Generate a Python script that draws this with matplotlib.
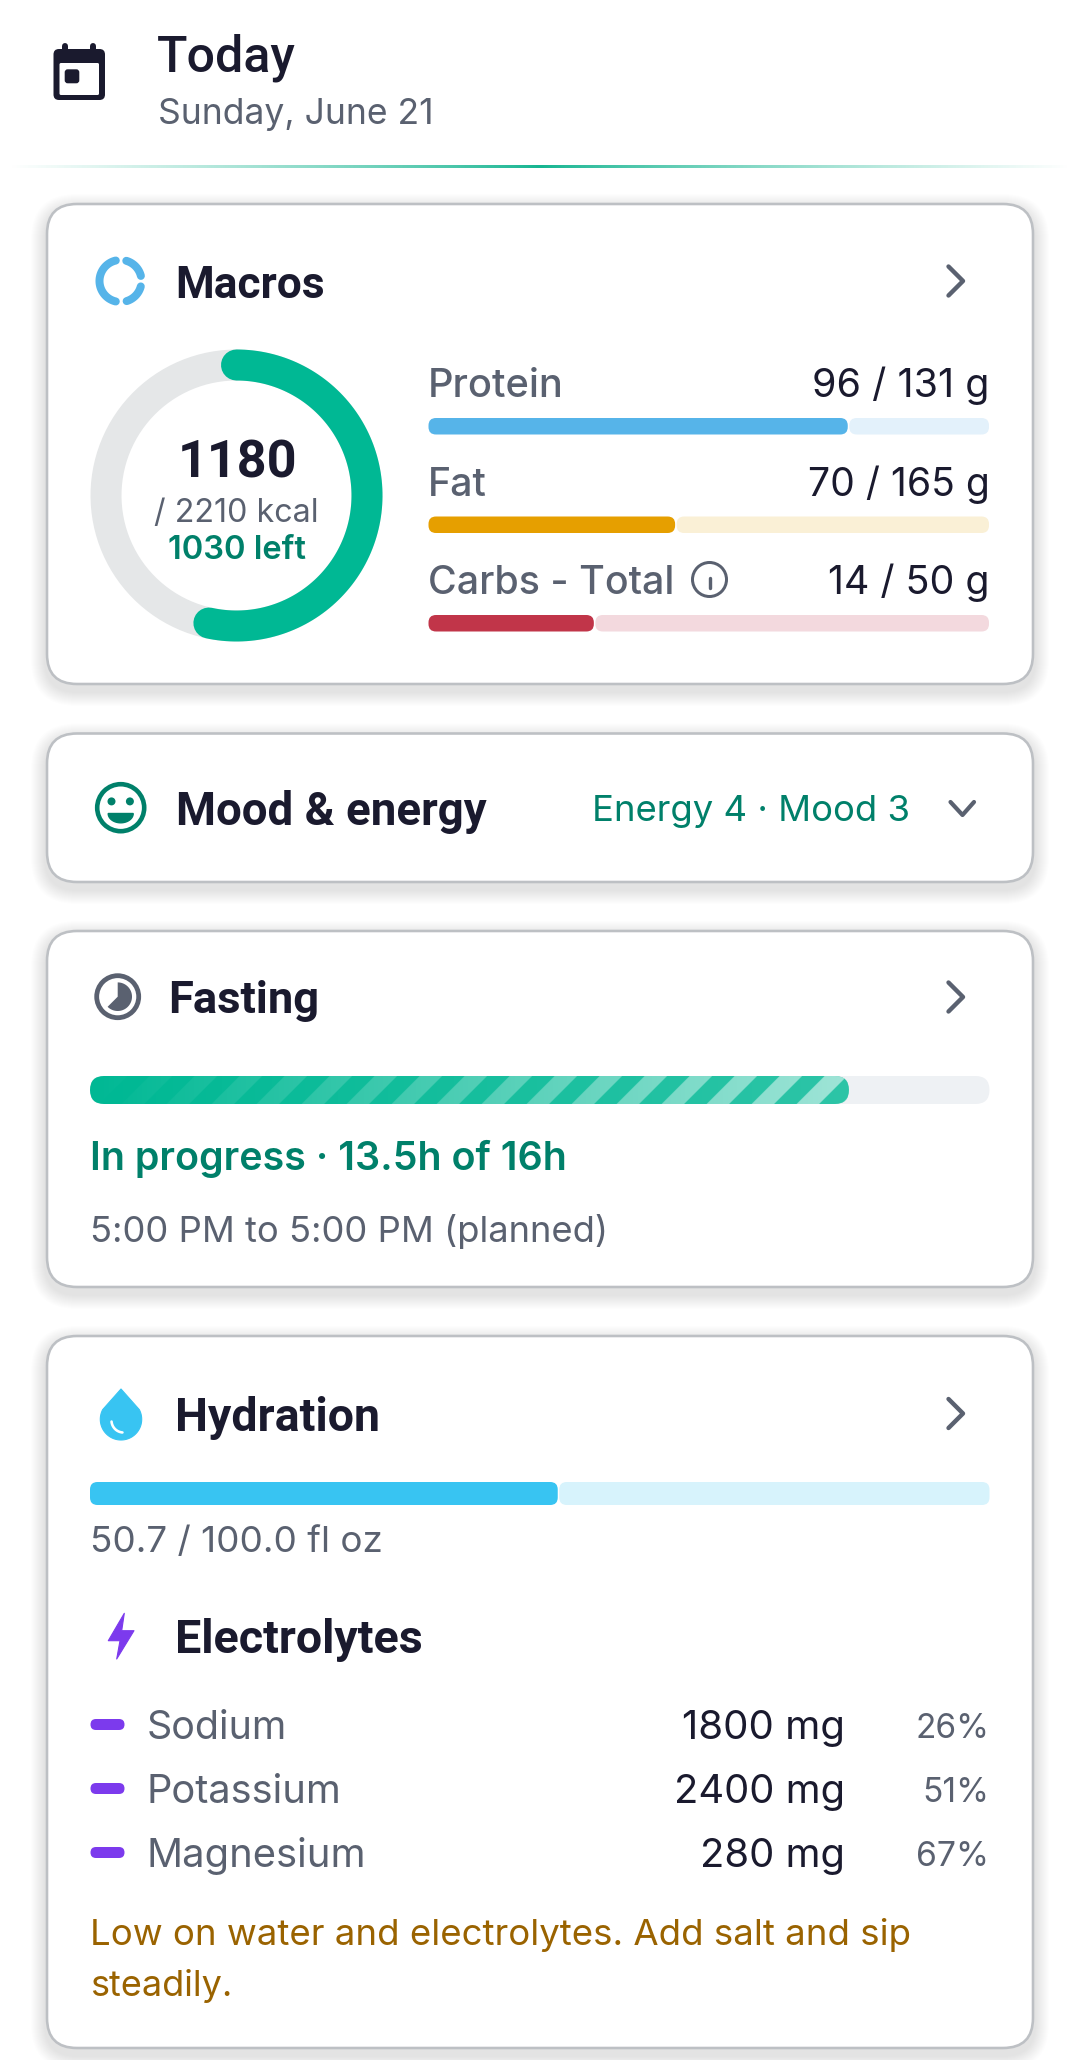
"""
Today dashboard cards: macros, mood, fasting, hydration and electrolytes.
"""

import matplotlib

matplotlib.use("Agg")
import matplotlib.pyplot as plt
import numpy as np
from matplotlib.patches import Circle, FancyBboxPatch, Polygon

OUT_PATH = "out.png"

# chart values
macro_names = ["Protein", "Fat", "Carbs - Total"]
macro_eaten = [96, 70, 14]
macro_goal = [131, 165, 50]
macro_fill = [0.748, 0.44, 0.295]
kcal_eaten = 1180
kcal_goal = 2210
kcal_left = 1030
energy_level = 4
mood_level = 3
fast_done = 13.5
fast_goal = 16
water_done = 50.7
water_goal = 100.0
water_fill = 0.52
electrolyte_names = ["Sodium", "Potassium", "Magnesium"]
electrolyte_mg = [1800, 2400, 280]
electrolyte_pct = [26, 51, 67]

DARK = "#1A1A2E"
GRAY = "#5A6170"
TEAL = "#00B894"
TEAL_TEXT = "#00806A"
BLUE = "#56B4E9"
ORANGE = "#E69F00"
RED = "#C13549"
CYAN = "#38C4F2"
PURPLE = "#7C3AED"
AMBER = "#9A6300"
BODY = ["Inter", "DejaVu Sans"]
HEAD = ["Roboto", "DejaVu Sans"]
PX = 0.72  # points per pixel at dpi 100

fig = plt.figure(figsize=(10.8, 20.6), dpi=100, facecolor="white")
ax = fig.add_axes([0, 0, 1, 1])
renderer = fig.canvas.get_renderer()


def label(x, y, s, width, color=GRAY, weight=400, ha="left", family=BODY):
    # sized so the string spans the width measured in the picture
    t = ax.text(x, y, s, color=color, fontweight=weight, ha=ha, va="baseline",
                family=family, fontsize=20)
    t.set_fontsize(20 * width / t.get_window_extent(renderer).width)
    return t


def box(x0, y0, x1, y1, r, color, **kw):
    p = FancyBboxPatch((x0, y0), x1 - x0, y1 - y0,
                       boxstyle=f"round,pad=0,rounding_size={r}",
                       fc=color, ec="none", **kw)
    ax.add_patch(p)
    return p


def arc_xy(cx, cy, r, a0, a1):
    # clock angles in degrees, y pointing down
    a = np.radians(np.linspace(a0, a1, 120))
    return cx + r * np.sin(a), cy - r * np.cos(a)


def stroke(xs, ys, color, w, z=2):
    ax.plot(xs, ys, color=color, lw=w * PX, solid_capstyle="round",
            solid_joinstyle="round", zorder=z)


def card(x0, y0, x1, y1):
    for i in range(14):
        e = 16 - i
        ax.add_patch(FancyBboxPatch(
            (x0 - e, y0 + 6 - e), x1 - x0 + 2 * e, y1 - y0 + 2 * e,
            boxstyle=f"round,pad=0,rounding_size={30 + e}",
            fc="black", ec="none", alpha=0.009))
    ax.add_patch(FancyBboxPatch((x0, y0), x1 - x0, y1 - y0,
                                boxstyle="round,pad=0,rounding_size=30",
                                fc="white", ec="#BDC0C4", lw=2.6 * PX))


def chevron_right(y):
    stroke([948.5, 963, 948.5], [y - 14.5, y, y + 14.5], GRAY, 4.4)


def split_bar(x0, x1, y0, y1, frac, color, track):
    end = x0 + (x1 - x0) * frac
    box(end + 1.5, y0, x1, y1, 7.5, track)
    box(x0, y0, end, y1, 7.5, color)


ax.set_axis_off()

# header
box(53.5, 49, 105, 100, 5.5, DARK)
box(59.5, 63, 99, 95, 1.5, "white")
box(64.7, 69.3, 79.3, 83.3, 3, DARK)
for px in (64.7, 93):
    stroke([px, px], [46, 52], DARK, 6)
label(157, 72, "Today", 139, DARK, 500, family=HEAD)
label(158, 124, "Sunday, June 21", 276, GRAY)
rule = np.ones((1, 256, 4))
rule[..., :3] = matplotlib.colors.to_rgb("#12B48F")
rule[..., 3] = 1 - np.abs(np.linspace(-1, 1, 256)) ** 0.8
ax.imshow(rule, extent=(8, 1072, 168, 165), aspect="auto", zorder=2)

# macros card
card(47, 204, 1033, 684)
for a0, a1 in ((16, 76), (105, 163), (193, 347)):
    stroke(*arc_xy(120.5, 281, 21, a0, a1), BLUE, 8)
label(175.5, 298, "Macros", 149, DARK, 600, family=HEAD)
chevron_right(281)

stroke(*arc_xy(236.5, 495.5, 130.5, 0, 360), "#E5E7E8", 31, z=2)
stroke(*arc_xy(236.5, 495.5, 130.5, 0, 360 * kcal_eaten / kcal_goal), TEAL, 31, z=2.1)
label(237.5, 477.5, f"{kcal_eaten}", 120, DARK, 700, ha="center", family=HEAD)
label(236, 522, f"/ {kcal_goal} kcal", 165, GRAY, ha="center")
label(236.5, 559, f"{kcal_left} left", 138, TEAL_TEXT, 600, ha="center")

macro_colors = [BLUE, ORANGE, RED]
macro_tracks = ["#E3F1FB", "#FAF0D6", "#F3D9DE"]
macro_widths = [136, 59, 246]
value_widths = [177, 182, 162]
for i, name in enumerate(macro_names):
    base = 397 + i * 98.5
    label(428, base, name, macro_widths[i], GRAY, 500)
    label(989.5, base, f"{macro_eaten[i]} / {macro_goal[i]} g", value_widths[i],
          DARK, 400, ha="right")
    split_bar(428.5, 989, base + 21, base + 37.5, macro_fill[i],
              macro_colors[i], macro_tracks[i])
ax.add_patch(Circle((709.5, 579.5), 17, fc="none", ec=GRAY, lw=3 * PX, zorder=2))
stroke([709.5, 709.5], [578, 588], GRAY, 3.4)
stroke([709.5, 709.5], [571, 571.2], GRAY, 3.8)

# mood card
card(47, 733.5, 1033, 882)
ax.add_patch(Circle((120.7, 807.7), 23.5, fc="none", ec=TEAL_TEXT, lw=4.6 * PX, zorder=2))
for dx in (-9.2, 9.2):
    ax.add_patch(Circle((120.7 + dx, 801.4), 4, fc=TEAL_TEXT, ec="none", zorder=2))
mx, my = arc_xy(120.7, 813.5, 1, 90, 270)
ax.add_patch(Polygon(np.c_[120.7 + (mx - 120.7) * 12.5, 813.5 + (my - 813.5) * 9.3],
                     fc=TEAL_TEXT, ec=TEAL_TEXT, lw=1, zorder=2))
label(175.5, 825.5, "Mood & energy", 310, DARK, 600, family=HEAD)
label(909.5, 820.5, f"Energy {energy_level} · Mood {mood_level}", 318, TEAL_TEXT, ha="right")
stroke([950.5, 962.5, 974], [802, 815, 802], GRAY, 4.2)

# fasting card
card(47, 931, 1033, 1287)
ax.add_patch(Circle((117.7, 996.7), 21, fc="none", ec=GRAY, lw=4.8 * PX, zorder=2))
wx, wy = arc_xy(117.7, 996.7, 14.3, 0, 225)
ax.add_patch(Polygon(np.c_[np.r_[117.7, wx], np.r_[996.7, wy]], fc=GRAY, ec="none", zorder=2))
label(168.5, 1013.5, "Fasting", 151, DARK, 600, family=HEAD)
chevron_right(997)

bx0, bx1, by0, by1 = 90, 989.5, 1076, 1104
box(bx0, by0, bx1, by1, 14, "#EEF1F4")
fast_end = bx0 + (bx1 - bx0) * fast_done / fast_goal
fast_bar = box(bx0, by0, fast_end, by1, 14, TEAL, zorder=1.5)
gx = np.arange(bx0, fast_end, 0.25)
gy = np.arange(by0, by1, 0.25)
GX, GY = np.meshgrid(gx, gy)
t = (GX - bx0) / (fast_end - bx0)
light = ((GX + GY - by0 - 689.3) % 45) < 22.5
stripes = np.ones(GX.shape + (4,))
stripes[..., 3] = 0.18 * t + 0.45 * t * light
im = ax.imshow(stripes, extent=(bx0, fast_end, by1, by0), aspect="auto",
               zorder=1.6, interpolation_stage="rgba")
im.set_clip_path(fast_bar)
label(90.5, 1169.5, f"In progress · {fast_done}h of {fast_goal}h", 477, TEAL_TEXT, 600)
label(90.5, 1242, "5:00 PM to 5:00 PM (planned)", 519, GRAY)

# hydration card
card(47, 1336, 1033, 2048)
dx, dy = arc_xy(121, 1419.3, 20.7, 62, 298)
ax.add_patch(Polygon(np.c_[np.r_[121, dx], np.r_[1389, dy]], fc=CYAN, ec=CYAN,
                     lw=0.8, joinstyle="round", zorder=2))
hx, hy = arc_xy(123.5, 1420.5, 12, 185, 265)
stroke(hx, hy, "white", 2.6, z=2.1)
label(175.5, 1431, "Hydration", 204, DARK, 600, family=HEAD)
chevron_right(1413.5)
split_bar(90, 989.5, 1482, 1505, water_fill, CYAN, "#D7F3FC")
label(90.5, 1551.5, f"{water_done} / {water_goal} fl oz", 292, GRAY)

bolt = [(124.3, 1613.3), (108.3, 1640.7), (120, 1640.7), (116.7, 1659),
        (134, 1630.7), (121.7, 1630.7)]
ax.add_patch(Polygon(bolt, fc=PURPLE, ec=PURPLE, lw=0.8, joinstyle="round", zorder=2))
label(175.5, 1653.5, "Electrolytes", 248, DARK, 600, family=HEAD)

name_widths = [140, 195, 219]
mg_widths = [163, 171, 145]
pct_widths = [74, 67, 73]
for i, name in enumerate(electrolyte_names):
    base = 1739 + i * 64
    box(90.5, base - 20, 124.5, base - 9, 5.5, PURPLE)
    label(147, base, name, name_widths[i], GRAY)
    label(845.5, base, f"{electrolyte_mg[i]} mg", mg_widths[i], DARK, ha="right")
    label(989.5, base - 1, f"{electrolyte_pct[i]}%", pct_widths[i], GRAY, ha="right")
label(90.5, 1945.5, "Low on water and electrolytes. Add salt and sip", 819, AMBER)
label(90.5, 1996, "steadily.", 142, AMBER)

ax.set_xlim(0, 1080)
ax.set_ylim(2060, 0)
fig.savefig(OUT_PATH, dpi=100)
plt.close(fig)
print(f"Wrote {OUT_PATH}")
